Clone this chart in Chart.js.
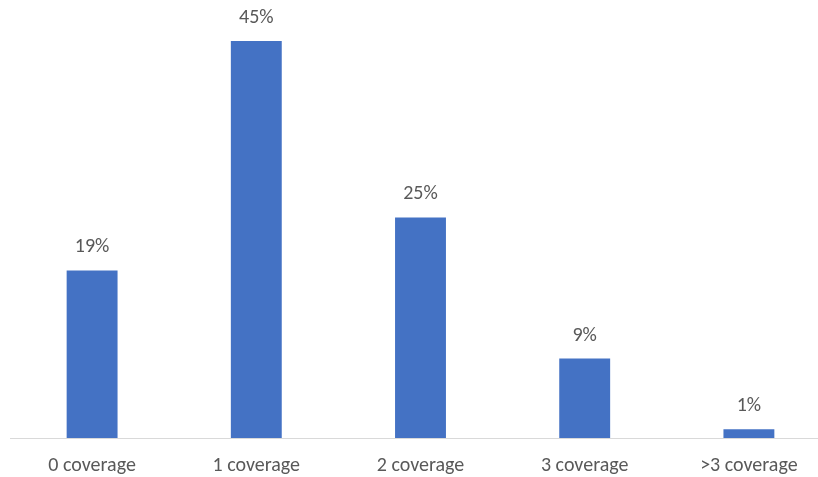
<!DOCTYPE html>
<html>
<head>
<meta charset="utf-8">
<script src="https://cdn.jsdelivr.net/npm/chart.js@4"></script>
<style>
  html, body { margin: 0; padding: 0; background: #ffffff; overflow: hidden; }
  #wrap { position: relative; width: 831px; height: 477px; }
</style>
</head>
<body>
<div id="wrap"><canvas id="chart"></canvas></div>
<script>
// Share of items by number of coverages
const categories = ['0 coverage', '1 coverage', '2 coverage', '3 coverage', '>3 coverage'];
const shares = [19, 45, 25, 9, 1];
const valueLabels = ['19%', '45%', '25%', '9%', '1%'];

const FONT = 'Calibri, Carlito, Lato, sans-serif';
const TEXT = '#595959';

// Writes each bar's percentage just above it
const barValueLabels = {
  id: 'barValueLabels',
  afterDatasetsDraw(chart) {
    const ctx = chart.ctx;
    const meta = chart.getDatasetMeta(0);
    ctx.save();
    ctx.font = '20px ' + FONT;
    ctx.fillStyle = TEXT;
    ctx.textAlign = 'center';
    ctx.textBaseline = 'middle';
    meta.data.forEach((bar, i) => {
      ctx.fillText(valueLabels[i], bar.x, bar.y - 23);
    });
    ctx.restore();
  }
};

new Chart(document.getElementById('chart'), {
  type: 'bar',
  data: {
    labels: categories,
    datasets: [{
      data: shares,
      backgroundColor: '#4472C4',
      borderWidth: 0,
      barPercentage: 1,
      categoryPercentage: 0.31
    }]
  },
  options: {
    responsive: true,
    maintainAspectRatio: false,
    animation: false,
    layout: { padding: { left: 10, right: 0, top: 19, bottom: 0 } },
    plugins: {
      legend: { display: false },
      tooltip: { enabled: false }
    },
    scales: {
      x: {
        grid: { display: false, drawTicks: false },
        border: { display: true, color: '#D9D9D9', width: 1 },
        ticks: {
          color: TEXT,
          font: { family: FONT, size: 20 },
          padding: 16,
          maxRotation: 0,
          autoSkip: false
        },
        afterFit(scale) { scale.height = 39; }
      },
      y: {
        display: false,
        min: 0,
        max: 47.5
      }
    }
  },
  plugins: [barValueLabels]
});
</script>
</body>
</html>
